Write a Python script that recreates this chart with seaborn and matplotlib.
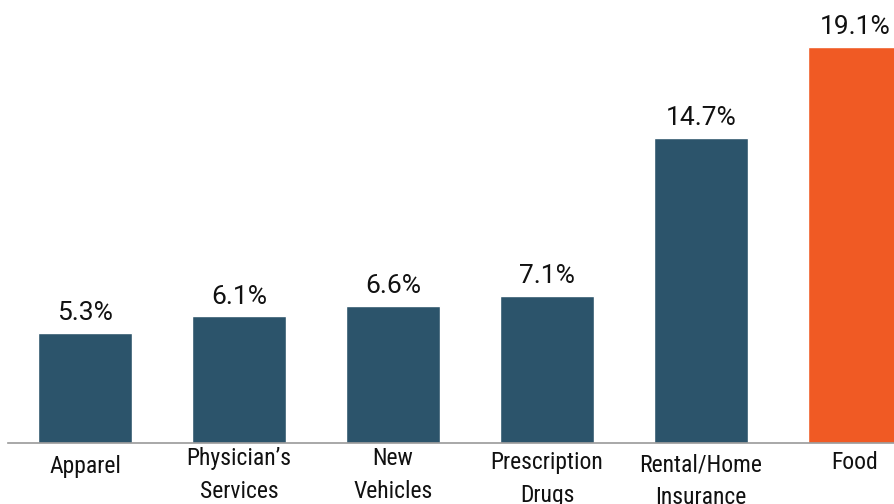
import matplotlib
matplotlib.use("Agg")
import matplotlib.pyplot as plt
import matplotlib.transforms as mtransforms
import seaborn as sns
import pandas as pd

# data
categories = ["Apparel", "Physician\u2019s\nServices", "New\nVehicles",
              "Prescription\nDrugs", "Rental/Home\nInsurance", "Food"]
values = [5.3, 6.1, 6.6, 7.1, 14.7, 19.1]
value_labels = ["5.3%", "6.1%", "6.6%", "7.1%", "14.7%", "19.1%"]

BLUE = "#2C546B"
ORANGE = "#F05A24"
colors = [BLUE] * 5 + [ORANGE]

sns.set_style("white")
plt.rcParams["font.family"] = ["Roboto", "DejaVu Sans"]

df = pd.DataFrame({"category": categories, "value": values})

fig = plt.figure(figsize=(8.95, 5.04), dpi=100)
# axes runs past the right edge so the last bar is clipped like the original
ax = fig.add_axes([8 / 895, 61 / 504, 924 / 895, 443 / 504])

sns.barplot(data=df, x="category", y="value", hue="category", palette=colors,
            width=0.61, legend=False, ax=ax, saturation=1)

ax.set_xlim(-0.5, 5.5)
ax.set_ylim(0, 21.35)
ax.set_xlabel("")
ax.set_ylabel("")
ax.set_yticks([])
ax.set_xticks([])
for side in ["top", "right", "left"]:
    ax.spines[side].set_visible(False)
ax.spines["bottom"].set_color("#9a9a9a")
ax.spines["bottom"].set_linewidth(1.2)

# value labels above bars
for i, (v, lab) in enumerate(zip(values, value_labels)):
    ax.annotate(lab, (i, v), xytext=(0, 5.5), textcoords="offset points",
                ha="center", va="bottom", fontsize=19, color="#111111")

# category labels, staggered like the reference (last-line baseline drop, points)
drops = [21.6, 39.6, 39.6, 42.5, 43.9, 18.7]
label_font = ["Roboto Condensed", "Roboto", "DejaVu Sans"]
for i, (cat, d) in enumerate(zip(categories, drops)):
    trans = ax.get_xaxis_transform() + mtransforms.ScaledTranslation(0, -d / 72, fig.dpi_scale_trans)
    ax.text(i, 0, cat, transform=trans, ha="center", va="baseline",
            fontsize=17, family=label_font, linespacing=1.54, color="#111111")

fig.savefig("out.png", dpi=100)
